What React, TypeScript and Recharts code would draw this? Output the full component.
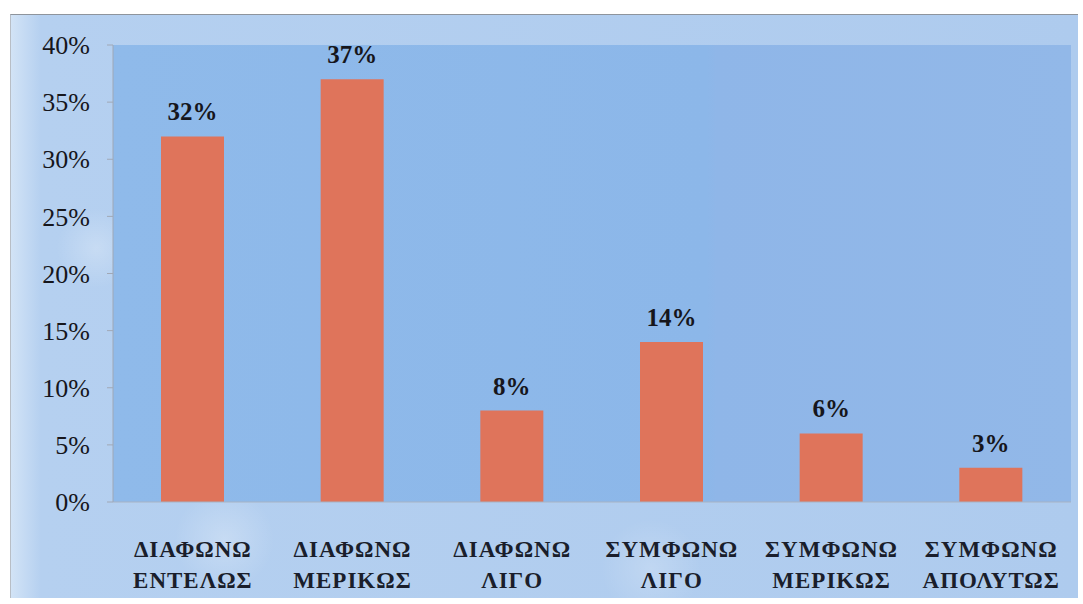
import { BarChart, Bar, XAxis, YAxis, CartesianGrid, LabelList } from 'recharts';

// Survey answers, share of respondents (%)
const categories = [
  'ΔΙΑΦΩΝΩ ΕΝΤΕΛΩΣ',
  'ΔΙΑΦΩΝΩ ΜΕΡΙΚΩΣ',
  'ΔΙΑΦΩΝΩ ΛΙΓΟ',
  'ΣΥΜΦΩΝΩ ΛΙΓΟ',
  'ΣΥΜΦΩΝΩ ΜΕΡΙΚΩΣ',
  'ΣΥΜΦΩΝΩ ΑΠΟΛΥΤΩΣ',
];
const shares = [32, 37, 8, 14, 6, 3];
const yTicks = [0, 5, 10, 15, 20, 25, 30, 35, 40];

const data = categories.map((name, i) => ({ name, value: shares[i] }));

const serif = '"Liberation Serif", "Times New Roman", serif';

// two-line category label (word per line)
const CategoryTick = (props: any) => {
  const { x, y, payload } = props;
  const words = String(payload.value).split(' ');
  return (
    <g transform={`translate(${x},${y})`}>
      {words.map((w, i) => (
        <text
          key={i}
          x={0}
          y={47 + i * 31}
          textAnchor="middle"
          fontFamily={serif}
          fontWeight="bold"
          fontSize={23}
          letterSpacing={1}
          fill="#1a1e2b"
        >
          {w}
        </text>
      ))}
    </g>
  );
};

const App = () => {
  return (
    <div
      style={{
        position: 'absolute',
        left: 10,
        top: 14,
        width: 1067,
        height: 583,
        borderTop: '1px solid #8e949c',
        borderLeft: '1px solid #b8bec6',
        background:
          'radial-gradient(circle at 8% 40%, rgba(255,255,255,0.25) 0, rgba(255,255,255,0) 40px),' +
          'radial-gradient(circle at 20% 90%, rgba(255,255,255,0.25) 0, rgba(255,255,255,0) 50px),' +
          'radial-gradient(circle at 60% 95%, rgba(255,255,255,0.2) 0, rgba(255,255,255,0) 50px),' +
          'linear-gradient(90deg, #d2e3f6 0px, #b5d0f0 30px, #aecbee 100%)',
      }}
    >
      <BarChart
        width={1067}
        height={583}
        data={data}
        margin={{ top: 30, right: 7, left: 0, bottom: 0 }}
        barSize={63}
      >
        <defs>
          <linearGradient id="plotBg" x1="0" y1="0" x2="1" y2="0">
            <stop offset="0%" stopColor="#8fbaea" />
            <stop offset="62%" stopColor="#8cb7e9" />
            <stop offset="63%" stopColor="#8fb6e8" />
            <stop offset="100%" stopColor="#92b8e8" />
          </linearGradient>
        </defs>
        <CartesianGrid horizontal={false} vertical={false} fill="url(#plotBg)" fillOpacity={1} />
        <XAxis
          dataKey="name"
          height={96}
          interval={0}
          tickLine={false}
          axisLine={{ stroke: '#a7b3c4' }}
          tick={<CategoryTick />}
        />
        <YAxis
          width={102}
          domain={[0, 40]}
          ticks={yTicks}
          interval={0}
          tickFormatter={(v: number) => `${v}%`}
          tickSize={6}
          tickMargin={17}
          axisLine={{ stroke: '#a0a8b6' }}
          tickLine={{ stroke: '#a0a8b6' }}
          tick={{ fill: '#16161c', fontFamily: serif, fontSize: 26 }}
        />
        <Bar dataKey="value" fill="#df745b" isAnimationActive={false}>
          <LabelList
            dataKey="value"
            position="top"
            offset={16}
            formatter={(v: any) => `${Math.round(Number(v))}%`}
            style={{ fill: '#16161c', fontFamily: serif, fontSize: 25, fontWeight: 'bold' }}
          />
        </Bar>
      </BarChart>
    </div>
  );
};

export default App;
